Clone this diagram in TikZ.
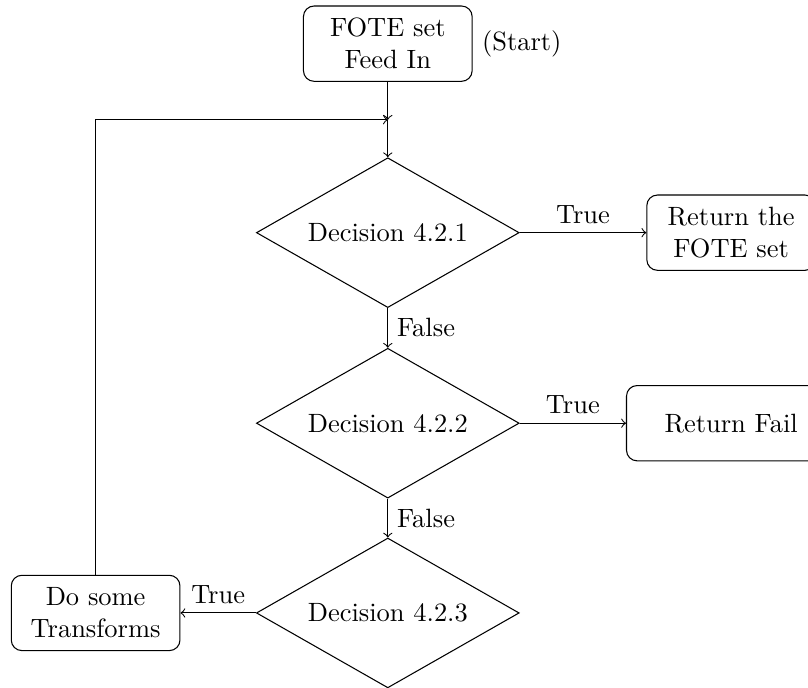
\documentclass[tikz,border=0pt]{standalone}
\usepackage{amsmath,amssymb}
\usepackage{tikz}
\usetikzlibrary{shapes.geometric,positioning}

\tikzset{
  block/.style={rectangle,rounded corners,draw,align=center,minimum width=2.24cm,minimum height=1cm},
  decision/.style={diamond,draw,aspect=2,inner sep=0pt,minimum width=3.49cm,minimum height=1.99cm}
}

\begin{document}
\begin{tikzpicture}[>=to]
  \useasboundingbox (-5.15,-6.04) rectangle (5.58,3.09);
  \node[block] (start) at (0,2.51) {FOTE set\\Feed In};
  \node[right] (startlbl) at (start.east) {(Start)};
  \coordinate (join) at (0,1.50);
  \node[decision] (dec1) at (0,0) {Decision 4.2.1};
  \node[decision] (dec2) at (0,-2.53) {Decision 4.2.2};
  \node[decision] (dec3) at (0,-5.05) {Decision 4.2.3};
  \node[block] (found) at (4.56,0) {Return the\\FOTE set};
  \node[block,minimum width=2.78cm] (fail) at (4.56,-2.53) {Return Fail};
  \node[block] (trans) at (-3.88,-5.05) {Do some\\Transforms};
  % main flow
  \draw[->] (start) -- (join);
  \draw[->] (join) -- (dec1);
  \draw[->] (dec1) -- node[above]{True} (found);
  \draw[->] (dec1) -- node[right]{False} (dec2);
  \draw[->] (dec2) -- node[above]{True} (fail);
  \draw[->] (dec2) -- node[right]{False} (dec3);
  \draw[->] (dec3) -- node[above]{True} (trans);
  % loop back
  \draw[->] (trans.north) |- (join);
\end{tikzpicture}
\end{document}
